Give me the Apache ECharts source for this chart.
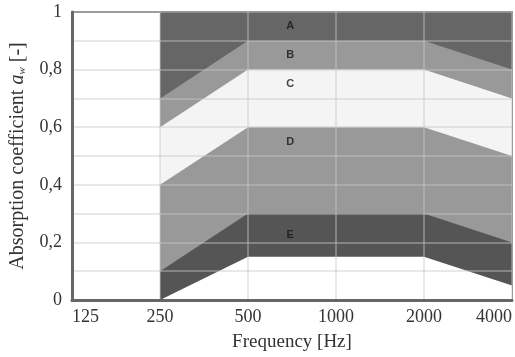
<!DOCTYPE html>
<html><head><meta charset="utf-8">
<script src="https://cdn.jsdelivr.net/npm/echarts@6/dist/echarts.min.js"></script>
<style>html,body{margin:0;padding:0;background:#fff}#c{width:515px;height:357px}</style>
</head><body><div id="c"></div>
<script>
const categories = ['125','250','500','1000','2000','4000'];
// upper boundaries of each band (null = no band)
const bandA = [null,1.0,1.0,1.0,1.0,1.0];
const bandB = [null,0.7,0.9,0.9,0.9,0.8];
const bandC = [null,0.6,0.8,0.8,0.8,0.7];
const bandD = [null,0.4,0.6,0.6,0.6,0.5];
const bandE = [null,0.1,0.3,0.3,0.3,0.2];
const bandBottom = [null,0.0,0.15,0.15,0.15,0.05];
const bandNames = ['A','B','C','D','E'];
const bandLabelY = [0.95,0.85,0.75,0.55,0.225];
const bandLabelX = 2.48; // position in category-index units
const yTickLabels = ['0','0,2','0,4','0,6','0,8','1'];

const serif = '"Liberation Serif","Times New Roman",serif';
const gridCol = 'rgba(200,200,200,0.55)';

function area(data, color){
  return {type:'line', data, symbol:'none', lineStyle:{width:0}, areaStyle:{color, opacity:1, origin:'start'}, silent:true, connectNulls:false};
}

const chart = echarts.init(document.getElementById('c'), null, {renderer:'canvas'});
chart.setOption({
  animation:false,
  grid:{left:68, right:2, top:12, bottom:56, show:true, borderColor:'#555', borderWidth:1.5, backgroundColor:'#fff'},
  xAxis:[{type:'category', data:categories, boundaryGap:false, z:5,
    axisLine:{lineStyle:{color:'#666', width:3}}, axisTick:{show:false},
    axisLabel:{color:'#333', fontFamily:serif, fontSize:18, margin:8, alignMinLabel:'left', alignMaxLabel:'right'},
    splitLine:{show:true, lineStyle:{color:gridCol, width:1.5}},
    name:'Frequency [Hz]', nameLocation:'middle', nameGap:33,
    nameTextStyle:{color:'#333', fontFamily:serif, fontSize:19}},
    {type:'value', min:0, max:categories.length-1, show:false}],
  yAxis:{type:'value', min:0, max:1, interval:0.1, z:5,
    axisLine:{show:true, lineStyle:{color:'#666', width:3}}, axisTick:{show:false},
    axisLabel:{color:'#333', fontFamily:serif, fontSize:18, margin:10,
      formatter:v=>{const k=Math.round(v*10); return k%2===0 ? yTickLabels[k/2] : '';}},
    splitLine:{show:true, lineStyle:{color:gridCol, width:1.5}},
    name:'Absorption coefficient {i|a}{s|w} [-]', nameLocation:'middle', nameGap:44,
    nameTextStyle:{color:'#333', fontFamily:serif, fontSize:20,
      rich:{i:{fontFamily:serif, fontStyle:'italic', fontSize:20, color:'#333'},
            s:{fontFamily:serif, fontStyle:'italic', fontSize:11, color:'#333', padding:[8,0,0,0]}}}},
  series:[
    area(bandA,'#666666'),
    area(bandB,'#999999'),
    area(bandC,'#f4f4f4'),
    area(bandD,'#999999'),
    area(bandE,'#555555'),
    area(bandBottom,'#ffffff'),
    {type:'scatter', xAxisIndex:1, z:6, symbolSize:0, silent:true,
      data:bandNames.map((n,i)=>({value:[bandLabelX, bandLabelY[i]], name:n})),
      label:{show:true, position:'inside', formatter:p=>p.name, color:'#151515',
        fontFamily:'"Liberation Sans",Arial,sans-serif', fontWeight:'bold', fontSize:11}}
  ]
});
</script></body></html>
